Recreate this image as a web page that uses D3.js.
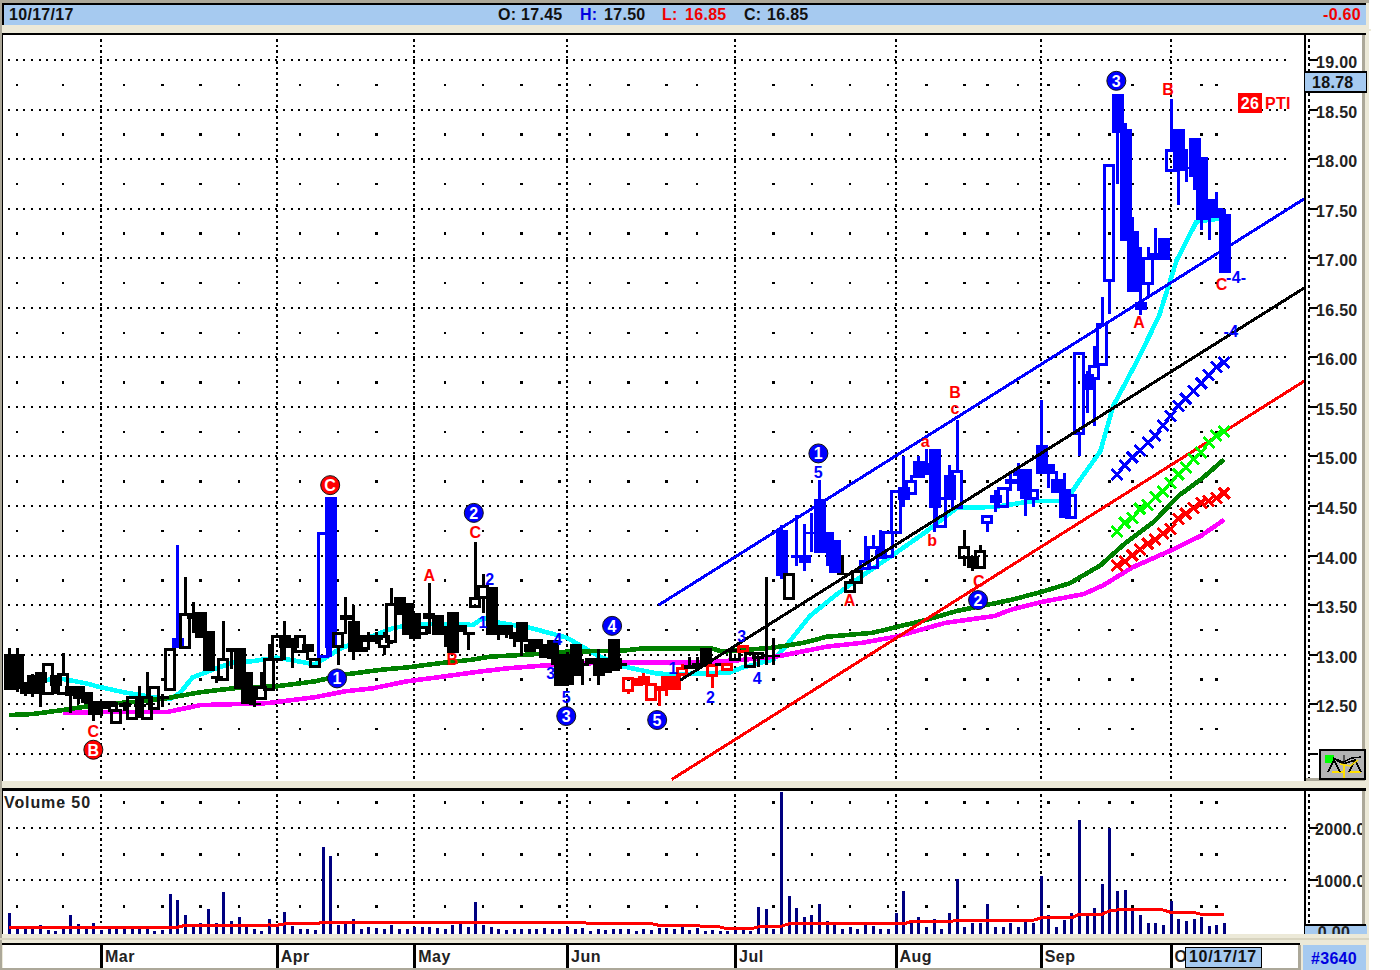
<!DOCTYPE html>
<html><head><meta charset="utf-8"><style>html,body{margin:0;padding:0;background:#fff}svg{display:block}text{font-family:"Liberation Sans",Arial,sans-serif;letter-spacing:.3px}</style>
<script src="https://cdn.jsdelivr.net/npm/d3@7"></script></head><body><svg id="c" width="1400" height="970"></svg>
<script>
const opens=[13.01,13.01,12.72,12.79,12.82,12.61,12.79,12.61,12.68,12.68,12.62,12.53,12.53,12.53,12.31,12.51,12.36,12.50,12.36,12.46,12.58,12.65,13.17,13.07,13.37,13.43,13.24,12.78,12.75,13.07,13.07,12.82,12.51,12.56,12.65,12.95,13.20,13.17,13.03,13.11,12.88,12.98,14.59,13.08,13.40,13.34,13.08,13.20,13.20,13.08,13.13,13.58,13.52,13.42,13.21,13.37,13.40,13.29,13.43,13.30,13.23,13.49,13.58,13.68,13.30,13.30,13.23,13.33,13.11,13.16,13.11,13.15,13.01,13.01,13.11,12.92,12.97,12.97,12.97,13.16,12.92,12.64,12.76,12.78,12.55,12.68,12.78,12.78,12.80,12.90,12.92,13.07,12.79,12.92,12.85,12.95,13.03,12.88,12.97,13.00,13.00,14.26,13.57,14.01,14.01,14.24,14.57,14.24,14.16,13.82,13.64,13.73,13.87,13.88,14.06,13.99,14.23,14.69,14.63,14.95,14.93,15.07,14.29,14.81,14.48,13.98,13.99,13.88,14.33,14.61,14.49,14.77,14.87,14.87,14.58,15.11,14.92,14.77,14.67,14.38,15.23,15.83,15.79,15.93,16.78,18.66,18.30,17.27,16.56,16.74,17.05,17.20,17.88,18.30,17.92,18.21,18.02,17.60,17.51,17.45];
const highs=[13.07,13.07,12.72,12.80,12.82,12.92,12.79,13.02,12.68,12.68,12.62,12.53,12.53,12.53,12.52,12.52,12.58,12.68,12.82,12.68,12.60,13.07,14.11,13.78,13.53,13.43,13.24,12.78,13.34,13.07,13.07,12.82,12.68,12.82,13.11,13.20,13.34,13.17,13.20,13.11,12.97,14.24,14.59,13.23,13.58,13.50,13.20,13.23,13.23,13.23,13.67,13.58,13.52,13.42,13.29,13.72,13.40,13.29,13.43,13.30,13.23,14.14,13.81,13.68,13.30,13.30,13.23,13.33,13.16,13.16,13.11,13.15,13.01,13.03,13.11,12.96,12.97,13.06,12.97,13.16,12.97,12.77,12.76,12.81,12.71,12.68,12.78,12.78,12.91,12.98,12.98,13.07,12.91,12.92,12.92,13.06,13.10,13.03,13.03,13.78,13.17,14.31,13.82,14.41,14.32,14.43,14.76,14.24,14.16,14.01,13.74,13.85,14.20,14.21,14.26,14.25,14.66,15.00,14.81,15.00,15.07,15.07,14.59,14.91,15.37,14.26,13.99,14.11,14.41,14.66,14.69,14.83,14.93,14.87,14.67,15.57,14.92,14.85,14.83,14.62,16.05,15.86,16.11,16.61,17.95,18.66,18.36,17.42,17.11,17.11,17.30,17.20,18.61,18.30,18.10,18.21,18.02,17.60,17.67,17.50];
const lows=[12.64,12.62,12.58,12.57,12.47,12.61,12.60,12.61,12.41,12.50,12.50,12.33,12.38,12.42,12.31,12.43,12.36,12.36,12.36,12.46,12.47,12.65,13.07,13.07,13.22,13.17,12.83,12.71,12.75,12.85,12.65,12.50,12.47,12.56,12.65,12.95,12.95,12.86,13.03,12.95,12.86,12.98,12.98,12.90,13.21,12.95,13.03,13.05,13.11,13.00,13.11,13.40,13.20,13.16,13.21,13.21,13.20,13.08,13.02,13.23,13.05,13.49,13.42,13.20,13.15,13.17,13.08,12.99,13.03,13.06,12.97,12.90,12.68,12.68,12.78,12.69,12.91,12.69,12.81,12.83,12.85,12.60,12.68,12.69,12.55,12.48,12.58,12.64,12.80,12.85,12.83,12.87,12.66,12.88,12.85,12.95,13.03,12.88,12.87,12.90,12.90,13.76,13.55,13.89,13.84,14.04,14.03,13.89,13.82,13.81,13.64,13.73,13.85,13.88,13.96,13.99,14.23,14.49,14.63,14.78,14.81,14.24,14.29,14.56,14.48,13.89,13.84,13.88,14.24,14.44,14.49,14.65,14.65,14.40,14.49,14.82,14.68,14.63,14.38,14.38,15.00,15.44,15.31,15.93,16.44,17.75,17.17,16.66,16.43,16.60,16.98,16.98,17.88,17.54,17.77,17.69,17.28,17.18,17.41,16.85];
const closes=[12.64,12.65,12.60,12.60,12.71,12.92,12.68,12.81,12.58,12.55,12.51,12.39,12.45,12.47,12.45,12.47,12.58,12.47,12.58,12.68,12.55,13.07,13.07,13.42,13.42,13.17,12.83,12.75,12.97,13.03,12.65,12.50,12.50,12.68,12.97,13.20,13.07,13.07,13.20,13.03,12.97,14.24,13.07,13.23,13.35,13.03,13.03,13.13,13.15,13.20,13.52,13.40,13.20,13.16,13.29,13.42,13.20,13.20,13.02,13.23,13.20,13.58,13.70,13.20,13.20,13.20,13.16,13.13,13.03,13.06,12.97,12.96,12.68,12.69,12.78,12.88,12.91,12.78,12.81,12.83,12.89,12.77,12.68,12.69,12.71,12.63,12.64,12.64,12.87,12.85,12.87,12.87,12.91,12.88,12.92,13.06,13.10,13.03,13.03,12.98,12.98,13.79,13.82,13.97,13.92,14.22,14.03,14.04,13.82,13.81,13.74,13.85,13.95,14.10,13.96,14.25,14.66,14.56,14.76,14.78,14.81,14.48,14.59,14.56,14.86,14.10,13.87,14.06,14.41,14.53,14.69,14.72,14.80,14.57,14.67,14.82,14.82,14.63,14.38,14.62,16.05,15.67,15.92,16.35,17.95,18.26,17.17,16.66,16.48,17.01,16.98,16.98,18.10,17.88,17.91,17.82,17.39,17.42,17.41,16.85];
const volumes=[359,58,58,58,135,39,26,58,321,148,71,167,39,58,58,58,58,58,58,26,39,731,616,321,103,167,443,167,763,212,289,103,58,26,244,154,391,122,65,65,39,1641,1462,141,180,244,65,103,77,65,141,65,65,103,103,103,77,65,135,148,103,577,141,103,65,39,65,65,65,65,71,65,65,103,65,71,26,58,32,65,65,65,26,58,32,71,71,65,90,39,71,26,32,26,26,103,39,20,475,436,65,2700,686,468,289,327,539,206,141,65,103,65,141,116,65,65,372,795,180,283,103,244,65,359,1020,103,167,167,539,103,103,167,103,199,180,1084,321,103,231,359,2154,327,468,924,2007,795,808,411,321,167,167,141,603,244,206,244,283,116,141,167];
const volumeAvg=[90,90,90,90,90,90,90,90,90,90,90,90,90,90,90,90,90,90,90,90,90,90,90,129,129,129,129,129,129,129,129,129,129,129,135,129,154,154,154,154,154,186,186,186,186,186,186,186,186,186,186,186,186,186,186,186,186,186,186,186,186,186,186,186,186,186,186,186,186,186,186,186,186,186,186,186,161,161,161,161,161,161,161,161,161,129,129,129,129,129,129,97,97,97,58,58,58,58,97,97,97,110,154,154,154,154,154,154,154,154,154,154,154,154,154,154,154,154,199,199,199,199,199,199,225,225,225,225,225,225,225,225,225,225,225,270,270,270,270,270,340,340,340,340,405,424,424,424,424,424,424,424,379,379,379,379,340,340,340,340];
const blueBars=[22,41,42,101,103,104,105,106,107,108,112,113,114,115,116,117,118,119,120,121,122,123,124,128,129,130,131,132,133,134,135,136,137,138,139,140,141,142,143,144,145,146,147,148,149,150,151,152,153,154,155,156,157,158,159];
const redBars=[81,82,83,84,85,86,87,88,92,94,96];
const cyanIdx=[4,7,10,12,15,18,21,22.3,24,26.7,29.3,31.5,35,38,40,43.3,50.3,53.8,60.7,62,64.2,68.2,73,75,77,80.4,84.7,86.9,94.3,96,100,101.8,104.8,108,111.7,115,120,124,129,134,138,139,140.2,142.8,144.5,147.8,150.5,152.8,155.4,158.5];
const cyanVal=[12.74,12.755,12.71,12.67,12.62,12.58,12.55,12.61,12.77,12.85,12.92,12.93,12.97,12.93,12.90,13.06,13.27,13.31,13.30,13.37,13.32,13.27,13.17,13.08,12.99,12.88,12.81,12.80,12.82,12.87,12.95,13.10,13.39,13.59,13.80,13.97,14.24,14.48,14.49,14.55,14.55,14.63,14.77,15.05,15.51,15.99,16.42,16.98,17.37,17.40];
const greenIdx=[0,3,7,12,16,20.6,25,29.3,35,40,44,49,52,56,60.7,63,68,73,80.4,82.6,92,93.4,100,104,107,113,120,124,131,135,138.8,142.8,146,149.8,153,156,159];
const greenVal=[12.39,12.40,12.44,12.50,12.52,12.56,12.62,12.66,12.68,12.73,12.80,12.85,12.87,12.91,12.95,12.98,13.00,13.03,13.04,13.06,13.06,13.03,13.07,13.12,13.18,13.22,13.35,13.44,13.55,13.63,13.72,13.90,14.12,14.34,14.60,14.77,14.97];
const magentaIdx=[7,12,20.6,25,33.7,40,44,47.6,52,56,60.7,65,70,78,88.6,95,100.4,107,111.7,116,122.5,129,131,135,140.6,143.2,147,152,156,159];
const magentaVal=[12.41,12.42,12.42,12.49,12.51,12.57,12.63,12.66,12.73,12.77,12.82,12.86,12.89,12.92,12.92,12.94,12.98,13.08,13.12,13.18,13.32,13.39,13.45,13.53,13.61,13.70,13.88,14.05,14.20,14.36];
const crossIdx=[145,146,147,148,149,150,151,152,153,154,155,156,157,158,159];
const crossBlue=[14.82,14.91,14.99,15.06,15.14,15.21,15.31,15.41,15.51,15.58,15.66,15.74,15.82,15.90,15.95];
const crossGreen=[14.24,14.33,14.38,14.47,14.51,14.59,14.65,14.73,14.82,14.89,14.97,15.04,15.14,15.21,15.25];
const crossRed=[13.90,13.94,14.00,14.06,14.12,14.16,14.22,14.27,14.37,14.42,14.48,14.53,14.55,14.58,14.63];
const trendBlue=[[85,13.50],[169.5,17.60]];
const trendBlack=[[87.8,12.74],[169.5,16.70]];
const trendRed=[[86.7,11.74],[169.5,15.76]];
const priceTicks=[19,18.5,18,17.5,17,16.5,16,15.5,15,14.5,14,13.5,13,12.5];
const quarterTicks=[18.75,18.25,17.75,17.25,16.75,16.25,15.75,15.25,14.75,14.25,13.75,13.25,12.75,12.25];
const gridPrices=[19,18.5,18,17.5,17,16.5,16,15.5,15,14.5,14,13.5,13,12.5,12];
const volumeTicks=[2000,1000];
const monthIdx=[12,35,53,73,95,116,135,152];
const monthNames=["Mar","Apr","May","Jun","Jul","Aug","Sep","O"];
const weekIdx=[1,7,15,20,25,30,38,43,48,57,62,67,72,76,81,86,90,100,105,110,115,120,125,128,132,136,140,144,147,156,158];
const circleText=["C","B","1","2","3","4","5","1","2","3"];
const circleIdx=[42,11,42.9,60.8,72.9,78.9,84.8,105.9,126.8,144.9];
const circlePrice=[14.71,12.04,12.76,14.43,12.38,13.29,12.34,15.03,13.55,18.79];
const redText=["C","A","B","C","A","a","b","B","c","A","C","B","C"];
const redIdx=[11,55,58,61,110,119.9,120.8,123.8,123.8,147.9,126.9,151.7,158.7];
const redPrice=[12.23,13.80,12.95,14.23,13.55,15.15,14.15,15.65,15.49,16.35,13.74,18.70,16.74];
const blueText=["1","2","4","3","5","1","2","3","4","5","-4-","-4"];
const blueIdx=[62,62.9,71.8,70.9,72.9,86.9,91.8,95.9,97.9,105.9,160.6,159.9];
const bluePrice=[13.33,13.76,13.15,12.81,12.57,12.86,12.57,13.19,12.76,14.84,16.81,16.26];

const svg=d3.select("#c");
const BEIGE="#ece9d8",PANEL="#a6caf0",GRAY="#aca899";
const x=d3.scaleLinear().domain([0,159]).range([9.3,9.3+7.64*159]);
const y=d3.scaleLinear().domain([19,12]).range([60,753.7]);
const yV=d3.scaleLinear().domain([0,2000]).range([932,828]);
const box=(g,a,b,w,h,f,st)=>{const r=g.append("rect").attr("x",a).attr("y",b).attr("width",w).attr("height",h).attr("fill",f).attr("shape-rendering","crispEdges");if(st)r.attr("stroke",st).attr("stroke-width",1.5);return r;};
const label=(g,a,b,t,f,anchor,size,weight)=>g.append("text").attr("x",a).attr("y",b).attr("fill",f).attr("text-anchor",anchor||"start").attr("font-size",size||16).attr("font-weight",weight||"bold").text(t);

const defs=svg.append("defs");
const clip=(id,a,b,w,h)=>defs.append("clipPath").attr("id",id).append("rect").attr("x",a).attr("y",b).attr("width",w).attr("height",h);
clip("main",3,35,1301,746);clip("vol",3,792,1301,142);clip("vaxis",1306,792,56,132);clip("zero",1306,926,58,8);

const bg=svg.append("g");
box(bg,0,0,1369,970,BEIGE);
box(bg,0,0,1369,3,GRAY);box(bg,0,3,1366,2,"#000");box(bg,0,0,2,970,GRAY);box(bg,2,3,2,22,"#000");
box(bg,4,5,1362,20,PANEL);
box(bg,1366,29,5,2,BEIGE);
box(bg,2,33,1364,2,"#000");box(bg,2,35,1,746,"#000");box(bg,3,35,1301,746,"#fff");
box(bg,1304,33,2,748,"#000");box(bg,1306,35,56,743,"#fff");box(bg,1362,35,3,746,GRAY);box(bg,1306,778,56,3,GRAY);
box(bg,2,788,1364,3,"#000");box(bg,2,791,1,143,"#000");box(bg,3,791,1301,143,"#fff");
box(bg,1304,791,2,143,"#000");box(bg,1306,791,56,143,"#fff");box(bg,1362,791,3,143,GRAY);
box(bg,0,938,1369,2,"#d8d4c0");
box(bg,2,943,1298,2,"#000");box(bg,3,945,1295,23,"#fff");box(bg,1298,945,3,23,GRAY);box(bg,0,968,1301,2,GRAY);
box(bg,1303,945,63,25,PANEL);

const h=svg.append("g");
label(h,9,20,"10/17/17","#111");
label(h,498,20,"O:","#111");label(h,521,20,"17.45","#111");
label(h,580,20,"H:","#0000e0");label(h,604,20,"17.50","#111");
label(h,662,20,"L:","#f00000");label(h,685,20,"16.85","#f00000");
label(h,744,20,"C:","#111");label(h,767,20,"16.85","#111");
label(h,1361,20,"-0.60","#f00000","end");

const grid=svg.append("g").attr("shape-rendering","crispEdges");
grid.selectAll(".hg").data(gridPrices).join("line").attr("x1",8).attr("x2",1292).attr("y1",d=>y(d)).attr("y2",d=>y(d)).attr("stroke","#000").attr("stroke-width",2).attr("stroke-dasharray","2 5.64");
grid.selectAll(".vg").data(monthIdx).join("line").attr("x1",d=>x(d)).attr("x2",d=>x(d)).attr("y1",39).attr("y2",781).attr("stroke","#000").attr("stroke-width",2).attr("stroke-dasharray","2.5 3");
grid.append("line").attr("x1",1309).attr("x2",1309).attr("y1",39).attr("y2",778).attr("stroke","#000").attr("stroke-width",2).attr("stroke-dasharray","2.5 3.5");
weekIdx.forEach(w=>quarterTicks.forEach(p=>box(grid,x(w)-1,y(p)-1,2.5,2.5,"#000")));
const vGridLines=[2000,1000];
grid.selectAll(".hv").data(vGridLines).join("line").attr("x1",8).attr("x2",1292).attr("y1",d=>yV(d)).attr("y2",d=>yV(d)).attr("stroke","#000").attr("stroke-width",2).attr("stroke-dasharray","2 5.64");
grid.selectAll(".vv").data(monthIdx).join("line").attr("x1",d=>x(d)).attr("x2",d=>x(d)).attr("y1",794).attr("y2",934).attr("stroke","#000").attr("stroke-width",2).attr("stroke-dasharray","2.5 3");
grid.append("line").attr("x1",1309).attr("x2",1309).attr("y1",794).attr("y2",926).attr("stroke","#000").attr("stroke-width",2).attr("stroke-dasharray","2.5 3.5");
weekIdx.forEach(w=>[2500,1500,500].forEach(v=>box(grid,x(w)-1,yV(v)-1,2.5,2.5,"#000")));

const plot=svg.append("g").attr("clip-path","url(#main)");
const maLine=d3.line().x(d=>x(d[0])).y(d=>y(d[1]));
const zip=(a,b)=>a.map((v,i)=>[v,b[i]]);
[[cyanIdx,cyanVal,"#00ffff"],[magentaIdx,magentaVal,"#ff00ff"],[greenIdx,greenVal,"#008000"]].forEach(([a,b,c])=>{
  plot.append("path").attr("d",maLine(zip(a,b))).attr("fill","none").attr("stroke",c).attr("stroke-width",4.6).attr("stroke-linejoin","round").attr("shape-rendering","crispEdges");
});
const colorOf=i=>blueBars.includes(i)?"#0000ff":redBars.includes(i)?"#ff0000":"#000";
const bars=d3.range(opens.length);
const CW=12;
const cg=plot.append("g").attr("shape-rendering","crispEdges");
const c=cg.selectAll("g").data(bars).join("g");
c.append("rect").attr("x",i=>Math.round(x(i))-1).attr("width",3).attr("fill",colorOf)
  .attr("y",i=>y(highs[i])).attr("height",i=>Math.max(0,y(Math.max(opens[i],closes[i]))-y(highs[i])));
c.append("rect").attr("x",i=>Math.round(x(i))-1).attr("width",3).attr("fill",colorOf)
  .attr("y",i=>y(Math.min(opens[i],closes[i]))).attr("height",i=>Math.max(0,y(lows[i])-y(Math.min(opens[i],closes[i]))));
c.each(function(i){
  const g=d3.select(this),top=y(Math.max(opens[i],closes[i])),bot=y(Math.min(opens[i],closes[i])),col=colorOf(i);
  const a=Math.round(x(i));
  if(closes[i]>opens[i]){
    g.append("rect").attr("x",a-4.5).attr("width",CW-3).attr("y",top+1.5).attr("height",Math.max(1,bot-top-1.5)).attr("fill","none").attr("stroke",col).attr("stroke-width",3);
  }else{
    g.append("rect").attr("x",a-5.5).attr("width",CW).attr("y",top).attr("height",Math.max(2,bot-top)).attr("fill",col);
  }
});
[[trendBlue,"#0000ff"],[trendBlack,"#000"],[trendRed,"#ff0000"]].forEach(([d,col])=>{
  plot.append("path").attr("d",maLine(d)).attr("fill","none").attr("stroke",col).attr("stroke-width",3).attr("shape-rendering","crispEdges");
});
[[crossBlue,"#0000ff"],[crossGreen,"#00ff00"],[crossRed,"#ff0000"]].forEach(([vals,col])=>{
  plot.selectAll(null).data(vals).join("path")
    .attr("d",(v,i)=>{const a=x(crossIdx[i]),b=y(v),s=5.5;return `M${a-s},${b-s}L${a+s},${b+s}M${a-s},${b+s}L${a+s},${b-s}`;})
    .attr("stroke",col).attr("stroke-width",3).attr("fill","none").attr("shape-rendering","crispEdges");
});
const ann=svg.append("g");
ann.selectAll(".r").data(redText).join("text").attr("x",(d,i)=>x(redIdx[i])).attr("y",(d,i)=>y(redPrice[i])).attr("dy","0.36em").attr("text-anchor","middle").attr("font-size",16).attr("font-weight","bold").attr("fill","#ff0000").text(d=>d);
ann.selectAll(".b").data(blueText).join("text").attr("x",(d,i)=>x(blueIdx[i])).attr("y",(d,i)=>y(bluePrice[i])).attr("dy","0.36em").attr("text-anchor","middle").attr("font-size",16).attr("font-weight","bold").attr("fill","#0000ff").text(d=>d);
const circ=ann.selectAll(".c").data(circleText).join("g").attr("transform",(d,i)=>`translate(${x(circleIdx[i])},${y(circlePrice[i])})`);
circ.append("circle").attr("r",9.5).attr("fill",(d,i)=>i<2?"#ff0000":"#0000ff").attr("stroke","#111").attr("stroke-width",1);
circ.append("text").attr("text-anchor","middle").attr("dy","0.36em").attr("font-size",16).attr("font-weight","bold").attr("fill","#fff").text(d=>d);
box(ann,1238,93,24,20,"#ff0000");
label(ann,1250,109,"26","#fff","middle");
label(ann,1265,109,"PTI","#ff0000","start",16,"bold");

const axis=svg.append("g");
axis.selectAll(".t").data(gridPrices).join("rect").attr("x",1309).attr("width",9).attr("y",d=>y(d)-1).attr("height",2).attr("fill","#000").attr("shape-rendering","crispEdges");
axis.selectAll(".l").data(priceTicks).join("text").attr("x",1316).attr("y",d=>y(d)+8).attr("font-size",16).attr("font-weight","bold").attr("fill","#222").text(d=>d.toFixed(2));
box(axis,1304.5,72,62,20,PANEL,"#000");
label(axis,1312,88,"18.78","#111");
const ic=axis.append("g");
box(ic,1320,750,45,29,"#b4b4b4","#000");
box(ic,1325,755,9,8,"#00ff00");
box(ic,1332,771,11,2,"#ffe000");box(ic,1349,771,12,2,"#ffe000");box(ic,1343,765,2,13,"#ffe000");box(ic,1343,755,2,9,"#555");
ic.append("path").attr("d","M1333,758L1343,762L1352,758L1361,757M1328,772L1334,760L1340,772M1349,772L1355,760L1361,772M1336,760L1343,764L1355,760").attr("fill","none").attr("stroke","#000").attr("stroke-width",1.5).attr("shape-rendering","crispEdges");
ic.append("path").attr("d","M1340,764L1350,766L1358,760").attr("fill","none").attr("stroke","#ffe000").attr("stroke-width",1.5);

const vp=svg.append("g").attr("clip-path","url(#vol)");
vp.selectAll(".v").data(volumes).join("rect").attr("x",(d,i)=>Math.round(x(i))-1).attr("width",3).attr("y",d=>yV(d)).attr("height",d=>934-yV(d)).attr("fill","#000080").attr("shape-rendering","crispEdges");
vp.append("path").attr("d",d3.line().x((d,i)=>x(i)).y(d=>yV(d))(volumeAvg)).attr("fill","none").attr("stroke","#ff0000").attr("stroke-width",3).attr("shape-rendering","crispEdges");
label(svg,4,808,"Volume 50","#222").style("letter-spacing","0.9px");
const va=svg.append("g");
va.selectAll(".t").data(volumeTicks).join("rect").attr("x",1309).attr("width",9).attr("y",d=>yV(d)-1).attr("height",2).attr("fill","#000").attr("shape-rendering","crispEdges");
va.append("g").attr("clip-path","url(#vaxis)").selectAll("text").data(volumeTicks).join("text").attr("x",1315).attr("y",d=>yV(d)+7).attr("font-size",16).attr("font-weight","bold").attr("fill","#222").text(d=>d.toFixed(2));
box(va,1304.5,925,62,9,PANEL);box(va,1304,924,62,1.5,"#000");
va.append("g").attr("clip-path","url(#zero)").append("text").attr("x",1334).attr("y",938).attr("text-anchor","middle").attr("font-size",16).attr("font-weight","bold").attr("fill","#222").text("0.00");

const da=svg.append("g");
da.selectAll(".m").data(monthIdx).join("rect").attr("x",d=>Math.round(x(d))-1).attr("width",3).attr("y",945).attr("height",23).attr("fill","#000").attr("shape-rendering","crispEdges");
da.selectAll(".n").data(monthNames).join("text").attr("x",(d,i)=>x(monthIdx[i])+4).attr("y",962).attr("font-size",16).attr("font-weight","bold").attr("fill","#222").text(d=>d).style("letter-spacing","0.5px");
box(da,1185.5,947.5,76,20,PANEL,"#000");
label(da,1189,962,"10/17/17","#111").style("letter-spacing","0.7px");
label(da,1334,964,"#3640","#0000e0","middle");
</script></body></html>
